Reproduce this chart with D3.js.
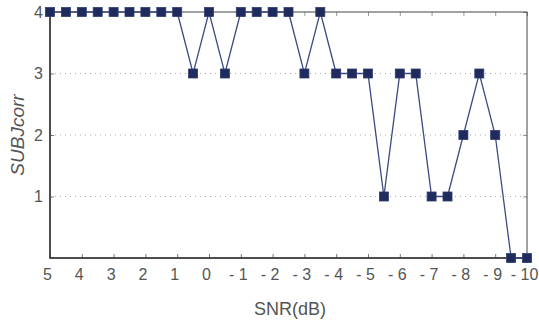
<!DOCTYPE html>
<html>
<head>
<meta charset="utf-8">
<script src="https://cdn.jsdelivr.net/npm/d3@7"></script>
<style>
  html, body { margin: 0; padding: 0; background: #fff; }
  svg { display: block; font-family: "Liberation Sans", Arial, sans-serif; }
</style>
</head>
<body>
<svg id="chart" width="539" height="322"></svg>
<script>
// SNR steps (dB) and subjective scores
const snr = [5, 4.5, 4, 3.5, 3, 2.5, 2, 1.5, 1, 0.5, 0, -0.5, -1, -1.5, -2, -2.5,
  -3, -3.5, -4, -4.5, -5, -5.5, -6, -6.5, -7, -7.5, -8, -8.5, -9, -9.5, -10];
const subj = [4, 4, 4, 4, 4, 4, 4, 4, 4, 3, 4, 3, 4, 4, 4, 4,
  3, 4, 3, 3, 3, 1, 3, 3, 1, 1, 2, 3, 2, 0, 0];
const xTicks = [5, 4, 3, 2, 1, 0, -1, -2, -3, -4, -5, -6, -7, -8, -9, -10];
const yTicks = [1, 2, 3, 4];

const W = 539, H = 322;
const m = { left: 50, right: 12, top: 12, bottom: 64 };
const svg = d3.select("#chart");

const x = d3.scaleLinear().domain([5, -10]).range([m.left, W - m.right]);
const y = d3.scaleLinear().domain([0, 4]).range([H - m.bottom, m.top]);

const txt = "#555";
// matlab style: plain hyphen with a thin gap
const fmt = d => (d < 0 ? "- " + Math.abs(d) : String(d));

// dotted horizontal grid
svg.append("g")
  .selectAll("line")
  .data([1, 2, 3])
  .join("line")
  .attr("x1", x(5)).attr("x2", x(-10))
  .attr("y1", d => y(d)).attr("y2", d => y(d))
  .attr("stroke", "#aaa")
  .attr("stroke-width", 1)
  .attr("stroke-dasharray", "1,4");

// bottom axis, ticks pointing in
const xAxis = svg.append("g")
  .attr("transform", `translate(0,${y(0)})`)
  .call(d3.axisBottom(x).tickValues(xTicks).tickSize(-4).tickPadding(11).tickFormat(fmt));
xAxis.select(".domain").remove();
xAxis.selectAll("line").attr("stroke", "#777");
xAxis.selectAll("text").attr("fill", txt).attr("font-size", 16).attr("dx", -3);

// top ticks
svg.append("g")
  .attr("transform", `translate(0,${y(4)})`)
  .call(d3.axisTop(x).tickValues(xTicks).tickSize(-4).tickFormat(""))
  .call(g => g.select(".domain").remove())
  .selectAll("line").attr("stroke", "#999");

// left axis
const yAxis = svg.append("g")
  .attr("transform", `translate(${x(5)},0)`)
  .call(d3.axisLeft(y).tickValues(yTicks).tickSize(-4).tickPadding(7).tickFormat(fmt));
yAxis.select(".domain").remove();
yAxis.selectAll("line").attr("stroke", "#777");
yAxis.selectAll("text").attr("fill", txt).attr("font-size", 16);

// right ticks
svg.append("g")
  .attr("transform", `translate(${x(-10)},0)`)
  .call(d3.axisRight(y).tickValues(yTicks).tickSize(-4).tickFormat(""))
  .call(g => g.select(".domain").remove())
  .selectAll("line").attr("stroke", "#999");

// frame
svg.append("rect")
  .attr("x", x(5)).attr("y", y(4))
  .attr("width", x(-10) - x(5)).attr("height", y(0) - y(4))
  .attr("fill", "none")
  .attr("stroke", "#444")
  .attr("stroke-width", 1);
// left & bottom are a bit heavier
svg.append("path")
  .attr("d", `M${x(5)},${y(4)}V${y(0)}H${x(-10)}`)
  .attr("fill", "none").attr("stroke", "#333").attr("stroke-width", 1.5);

const pts = snr.map((s, i) => ({ s, v: subj[i] }));

svg.append("path")
  .datum(pts)
  .attr("fill", "none")
  .attr("stroke", "#3b4a80")
  .attr("stroke-width", 1.3)
  .attr("d", d3.line().x(d => x(d.s)).y(d => y(d.v)));

const ms = 9;
svg.append("g")
  .selectAll("rect")
  .data(pts)
  .join("rect")
  .attr("x", d => x(d.s) - ms / 2)
  .attr("y", d => y(d.v) - ms / 2)
  .attr("width", ms).attr("height", ms)
  .attr("fill", "#1e2b5c")
  .attr("stroke", "#2c3b72")
  .attr("stroke-width", 0.8);

// axis labels
svg.append("text")
  .attr("x", 290)
  .attr("y", 315)
  .attr("text-anchor", "middle")
  .attr("fill", txt)
  .attr("font-size", 18)
  .text("SNR(dB)");

svg.append("text")
  .attr("transform", `translate(24,${(y(0) + y(4)) / 2}) rotate(-90)`)
  .attr("text-anchor", "middle")
  .attr("fill", txt)
  .attr("font-size", 19)
  .attr("font-style", "italic")
  .text("SUBJcorr");
</script>
</body>
</html>
